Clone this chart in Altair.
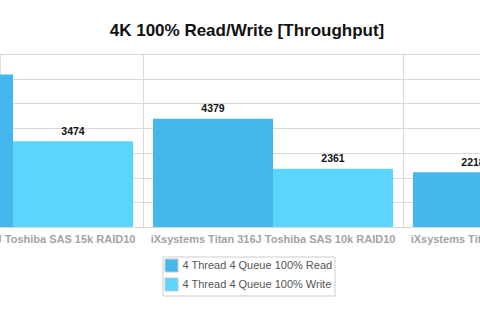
import altair as alt
import pandas as pd

groups = [
    "iXsystems Titan 316J Toshiba SAS 15k RAID10",
    "iXsystems Titan 316J Toshiba SAS 10k RAID10",
    "iXsystems Titan 316J Toshiba SAS 10k RAID50",
]
series = ["4 Thread 4 Queue 100% Read", "4 Thread 4 Queue 100% Write"]
read_vals = [6170, 4379, 2218]
write_vals = [3474, 2361, 1540]
colors = ["#44b8ec", "#5ad5fd"]
y_ticks = [0, 1000, 2000, 3000, 4000, 5000, 6000, 7000]

rows = []
for g, r, w in zip(groups, read_vals, write_vals):
    rows.append({"group": g, "series": series[0], "value": r})
    rows.append({"group": g, "series": series[1], "value": w})
df = pd.DataFrame(rows)

FONT = "Liberation Sans"

x = alt.X(
    "group:N",
    sort=groups,
    title=None,
    scale=alt.Scale(domain=groups, range=[-117, 663], paddingInner=0, paddingOuter=0),
    axis=alt.Axis(
        bandPosition=0,
        grid=True,
        gridColor="#d9d9d9",
        ticks=False,
        domain=False,
        labelAngle=0,
        labelOverlap=False,
        labelLimit=0,
        labelFont=FONT,
        labelFontSize=11,
        labelFontWeight="bold",
        labelColor="#a3a3a3",
        labelPadding=6,
    ),
)
xo = alt.XOffset(
    "series:N",
    sort=series,
    scale=alt.Scale(domain=series, paddingInner=0, paddingOuter=0.08333),
)
y = alt.Y(
    "value:Q",
    title=None,
    scale=alt.Scale(domain=[0, 7000], nice=False),
    axis=alt.Axis(
        values=y_ticks,
        labels=False,
        ticks=False,
        domain=False,
        grid=True,
        gridColor="#d9d9d9",
    ),
)

bars = alt.Chart(df).mark_bar(clip=True).encode(
    x=x,
    xOffset=xo,
    y=y,
    color=alt.Color(
        "series:N",
        sort=series,
        scale=alt.Scale(domain=series, range=colors),
        legend=alt.Legend(
            title=None,
            orient="none",
            legendX=162.5,
            legendY=202.5,
            direction="vertical",
            padding=2,
            strokeColor="#cccccc",
            fillColor="#ffffff",
            symbolType="square",
            symbolSize=169,
            symbolStrokeColor="#c8c8c8",
            symbolStrokeWidth=1,
            labelFont=FONT,
            labelFontSize=11,
            labelColor="#555555",
            labelOffset=4,
            rowPadding=1,
        ),
    ),
)

labels = alt.Chart(df).mark_text(
    font=FONT,
    fontSize=10.5,
    fontWeight="bold",
    color="#111111",
    baseline="alphabetic",
    dy=-6.5,
).encode(
    x=x,
    xOffset=xo,
    y=y,
    text=alt.Text("value:Q", format="d"),
)

chart = (
    alt.layer(bars, labels)
    .properties(
        width=480,
        height=173,
        autosize=alt.AutoSizeParams(type="none"),
        padding={"left": 0, "right": 0, "top": 54, "bottom": 89},
        title=alt.TitleParams(
            "4K 100% Read/Write [Throughput]",
            font=FONT,
            fontSize=17,
            fontWeight="bold",
            color="#111111",
            anchor="middle",
            dx=7,
            offset=14,
        ),
    )
    .configure_view(stroke=None)
    .configure(background="#ffffff")
)

chart.save("out.html", embed_options={"renderer": "svg", "actions": False})
